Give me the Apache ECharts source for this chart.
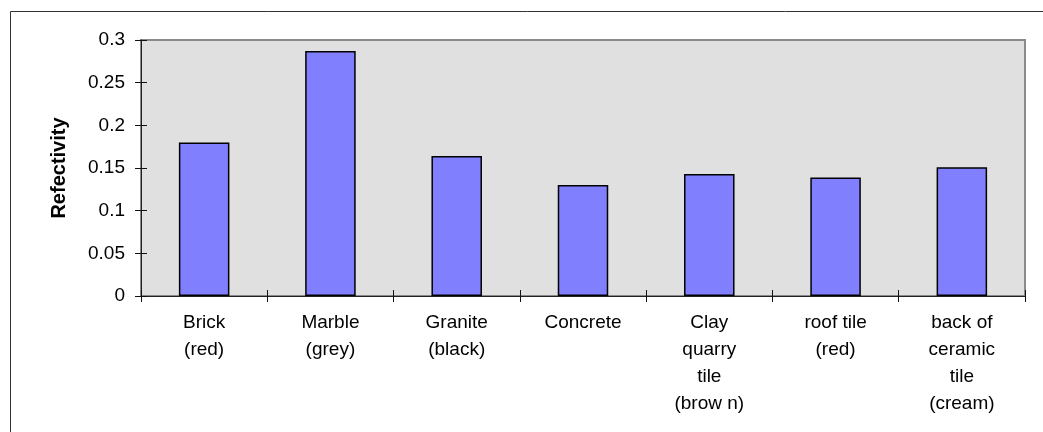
<!DOCTYPE html>
<html>
<head>
<meta charset="utf-8">
<script src="https://cdn.jsdelivr.net/npm/echarts@6/dist/echarts.min.js"></script>
<style>
  html, body { margin: 0; padding: 0; background: #fff; }
  #chart { width: 1043px; height: 432px; }
</style>
</head>
<body>
<div id="chart"></div>
<script>
// Reflectivity of building materials
const materials = [
  'Brick\n(red)',
  'Marble\n(grey)',
  'Granite\n(black)',
  'Concrete',
  'Clay\nquarry\ntile\n(brow n)',
  'roof tile\n(red)',
  'back of\nceramic\ntile\n(cream)'
];
const reflectivity = [0.180, 0.287, 0.164, 0.130, 0.143, 0.139, 0.151];
const yTicks = [0, 0.05, 0.1, 0.15, 0.2, 0.25, 0.3];

const font = 'Liberation Sans, Arial, sans-serif';
const chart = echarts.init(document.getElementById('chart'), null, { renderer: 'canvas' });

const tickStyle = { color: '#111', width: 1 };

chart.setOption({
  animation: false,
  backgroundColor: '#ffffff',
  graphic: [{
    type: 'rect',
    left: 8, top: 9,
    shape: { width: 1100, height: 500 },
    style: { fill: 'none', stroke: '#333', lineWidth: 1 },
    silent: true, z: -1
  }],
  grid: {
    left: 141, top: 40, right: 18, bottom: 136,
    show: true,
    z: -5,
    backgroundColor: '#e0e0e0',
    borderColor: '#8a8a8a',
    borderWidth: 2
  },
  xAxis: [{
    type: 'category',
    data: materials,
    position: 'bottom',
    axisLine: { show: true, onZero: false, lineStyle: { color: '#222', width: 1 } },
    axisTick: { show: true, length: 6, lineStyle: tickStyle },
    axisLabel: {
      color: '#000', fontFamily: font, fontSize: 19, lineHeight: 27,
      margin: 13, interval: 0, align: 'center'
    },
    splitLine: { show: false }
  }, {
    // inner half of the cross ticks along the category axis
    type: 'category',
    data: materials,
    position: 'bottom',
    z: 10,
    axisLine: { show: false, onZero: false },
    axisTick: { show: true, inside: true, length: 6, lineStyle: tickStyle },
    axisLabel: { show: false },
    splitLine: { show: false }
  }],
  yAxis: [{
    type: 'value',
    min: 0, max: 0.3, interval: 0.05,
    name: 'Refectivity',
    nameLocation: 'middle',
    nameGap: 72,
    nameRotate: 90,
    nameTextStyle: { color: '#000', fontFamily: font, fontSize: 20, fontWeight: 'bold' },
    axisLine: { show: true, lineStyle: { color: '#222', width: 1 } },
    axisTick: { show: true, length: 6, lineStyle: tickStyle },
    axisLabel: {
      color: '#000', fontFamily: font, fontSize: 19, margin: 16,
      formatter: v => {
        const t = yTicks.find(x => Math.abs(x - v) < 1e-9);
        return t === undefined ? '' : String(t);
      }
    },
    splitLine: { show: false }
  }, {
    // inner half of the cross ticks along the value axis
    type: 'value',
    min: 0, max: 0.3, interval: 0.05,
    position: 'left',
    z: 10,
    axisLine: { show: false },
    axisTick: { show: true, inside: true, length: 6, lineStyle: tickStyle },
    axisLabel: { show: false },
    splitLine: { show: false }
  }],
  series: [{
    type: 'bar',
    xAxisIndex: 0,
    yAxisIndex: 0,
    data: reflectivity,
    barWidth: '40%',
    itemStyle: { color: '#8080ff', borderColor: '#000', borderWidth: 1.5 }
  }]
});
</script>
</body>
</html>
